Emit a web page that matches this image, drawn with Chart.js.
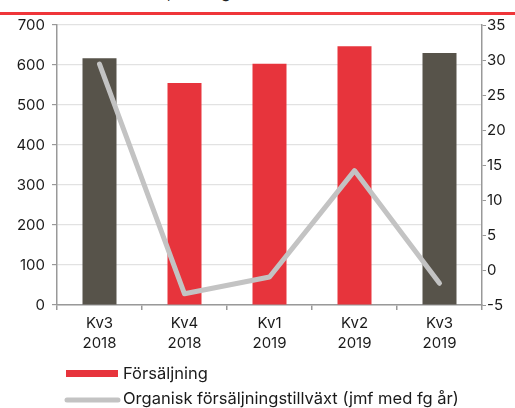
<!DOCTYPE html>
<html><head><meta charset="utf-8">
<script src="https://cdn.jsdelivr.net/npm/chart.js@4"></script>
<style>
html,body{margin:0;padding:0;background:#fff;width:515px;height:408px;overflow:hidden;}
#wrap{position:relative;width:515px;height:408px;}
#sub{position:absolute;left:0;top:-18px;font:16px Inter, sans-serif;color:#222;white-space:nowrap;}
#rule{position:absolute;left:0;top:12px;width:515px;height:3px;background:#ef3539;}
canvas{position:absolute;left:0;top:0;}
</style></head>
<body><div id="wrap">
<div id="sub">(MSEK (vänster skala), % (höger skala))</div>
<div id="rule"></div>
<canvas id="c" width="515" height="408"></canvas>
</div>
<script>
const categories = [['Kv3','2018'],['Kv4','2018'],['Kv1','2019'],['Kv2','2019'],['Kv3','2019']];
const sales = [617, 555, 603, 647, 630];
const growth = [29.4, -3.4, -1.0, 14.2, -1.9];
const barColors = ['#57534a','#e7343c','#e7343c','#e7343c','#57534a'];
const leftTicks = [0,100,200,300,400,500,600,700];
const rightTicks = [-5,0,5,10,15,20,25,30,35];
const legendLabels = ['Försäljning','Organisk försäljningstillväxt (jmf med fg år)'];

const FONT = {family:'Inter, sans-serif', size:15};
const TXT = '#1a1a1a';

const legendPlugin = {
  id:'customLegend',
  afterDraw(chart){
    const ctx = chart.ctx;
    ctx.save();
    ctx.font = '16.5px Inter, sans-serif';
    ctx.textBaseline = 'middle';
    ctx.fillStyle = '#e7343c';
    ctx.fillRect(66, 370, 52, 7);
    ctx.fillStyle = TXT;
    ctx.fillText(legendLabels[0], 123, 374);
    ctx.strokeStyle = '#c3c3c3';
    ctx.lineWidth = 5;
    ctx.lineCap = 'round';
    ctx.beginPath(); ctx.moveTo(67, 400); ctx.lineTo(118, 400); ctx.stroke();
    ctx.fillText(legendLabels[1], 123, 399);
    ctx.restore();
  }
};

new Chart(document.getElementById('c'), {
  type:'bar',
  data:{
    labels: categories,
    datasets:[
      {type:'line', label:legendLabels[1], data:growth, yAxisID:'y2', borderColor:'#c3c3c3', borderWidth:5,
       borderCapStyle:'round', borderJoinStyle:'round', pointRadius:0, tension:0, order:0},
      {type:'bar', label:legendLabels[0], data:sales, yAxisID:'y', backgroundColor:barColors,
       barPercentage:0.4, categoryPercentage:1.0, order:1}
    ]
  },
  options:{
    responsive:false, animation:false, devicePixelRatio:1,
    layout:{padding:{left:0,right:0,top:25,bottom:53}},
    plugins:{legend:{display:false}, tooltip:{enabled:false}},
    scales:{
      x:{
        grid:{display:true, drawOnChartArea:false, offset:true, tickLength:5, tickColor:'#999', lineWidth:1.5},
        border:{color:'#999', width:1.5},
        ticks:{color:TXT, font:{...FONT, lineHeight:1.33}, padding:4, maxRotation:0},
        afterFit(s){ s.height = 50; }
      },
      y:{
        position:'left', min:0, max:700,
        afterBuildTicks(s){ s.ticks = leftTicks.map(v=>({value:v})); },
        grid:{color:'#e2e2e2', lineWidth:1.2, tickLength:5, tickColor:'#999'},
        border:{color:'#999', width:1.5},
        ticks:{color:TXT, font:FONT, padding:7},
        afterFit(s){ s.width = 57; }
      },
      y2:{
        position:'right', min:-5, max:35,
        afterBuildTicks(s){ s.ticks = rightTicks.map(v=>({value:v})); },
        grid:{drawOnChartArea:false, tickLength:4, tickColor:'#999'},
        border:{color:'#999', width:1.5},
        ticks:{color:TXT, font:FONT, padding:1},
        afterFit(s){ s.width = 33; }
      }
    }
  },
  plugins:[legendPlugin]
});
</script>
</body></html>
